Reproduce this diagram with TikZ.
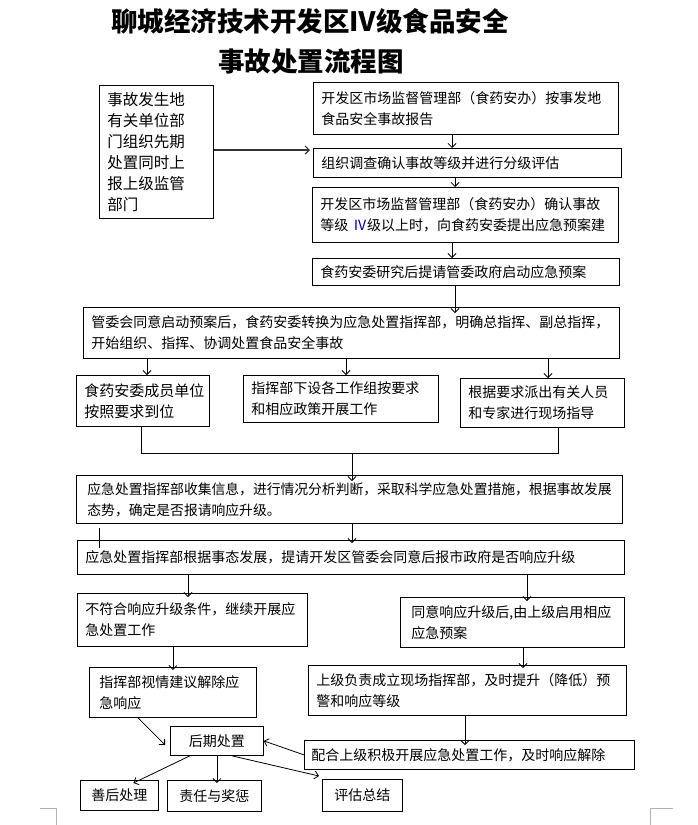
\documentclass[tikz,border=0pt]{standalone}
\usepackage{fontspec}
\newfontfamily\cjk{Noto Sans CJK SC}
\usetikzlibrary{arrows.meta}
\usepackage{xcolor}

\begin{document}
\begin{tikzpicture}[x=1pt,y=-1pt]
	\tikzstyle{box} = [draw=black,line width=0.8pt,anchor=north west,inner xsep=8pt,inner ysep=0pt,align=left,font=\cjk\fontsize{14}{21}\selectfont]
	\tikzstyle{arrow} = [-{Straight Barb[length=4pt,width=8pt]},line width=0.8pt]
	\tikzstyle{edge} = [-,line width=0.8pt]
	\tikzstyle{cornermark} = [-,line width=0.6pt,gray!60]
	\useasboundingbox (0,0) rectangle (697,825);
	\node[font=\cjk\bfseries\fontsize{26.5}{30}\selectfont] (title1) at (310,21) {聊城经济技术开发区Ⅳ级食品安全};
	\node[font=\cjk\bfseries\fontsize{26.5}{30}\selectfont] (title2) at (311,61) {事故处置流程图};
	\node[box,text width=98pt,minimum height=133pt,font=\cjk\fontsize{15.5}{21}\selectfont] (start) at (99,85) {事故发生地\\有关单位部\\门组织先期\\处置同时上\\报上级监管\\部门};
	\node[box,text width=289pt,minimum height=52pt] (report) at (313,82) {开发区市场监督管理部（食药安办）按事发地\\食品安全事故报告};
	\node[box,text width=292pt,minimum height=29pt] (assess) at (313,148) {组织调查确认事故等级并进行分级评估};
	\node[box,text width=290pt,minimum height=55pt] (confirm) at (312,187) {开发区市场监督管理部（食药安办）确认事故\\等级~{\color{blue!70!black}Ⅳ}级以上时，向食药安委提出应急预案建};
	\node[box,text width=291pt,minimum height=27pt] (propose) at (312,258) {食药安委研究后提请管委政府启动应急预案};
	\node[box,text width=520pt,minimum height=51pt] (plan) at (83,307) {管委会同意启动预案后，食药安委转换为应急处置指挥部，明确总指挥、副总指挥，\\开始组织、指挥、协调处置食品安全事故};
	\node[box,text width=117pt,minimum height=51pt,font=\cjk\fontsize{15}{21}\selectfont] (member) at (76,375) {食药安委成员单位\\按照要求到位};
	\node[box,text width=179pt,minimum height=47pt] (group) at (243,375) {指挥部下设各工作组按要求\\和相应政策开展工作};
	\node[box,text width=148pt,minimum height=49pt] (expert) at (460,378) {根据要求派出有关人员\\和专家进行现场指导};
	\node[box,inner xsep=11pt,text width=524pt,minimum height=48pt,font=\cjk\fontsize{13.8}{21}\selectfont] (collect) at (76,475) {应急处置指挥部收集信息，进行情况分析判断，采取科学应急处置措施，根据事故发展\\态势，确定是否报请响应升级。};
	\node[box,text width=531pt,minimum height=34pt] (upgrade) at (77,540) {应急处置指挥部根据事态发展，提请开发区管委会同意后报市政府是否响应升级};
	\node[box,text width=214pt,minimum height=53pt] (keep) at (77,593) {不符合响应升级条件，继续开展应\\急处置工作};
	\node[box,inner xsep=11pt,text width=202pt,minimum height=50pt] (higher) at (400,597) {同意响应升级后,由上级启用相应\\应急预案};
	\node[box,inner xsep=10pt,text width=147pt,minimum height=50pt] (lift) at (89,667) {指挥部视情建议解除应\\急响应};
	\node[box,text width=302pt,minimum height=50pt] (field) at (308,665) {上级负责成立现场指挥部，及时提升（降低）预\\警和响应等级};
	\node[box,align=center,text width=77pt,minimum height=29pt] (post) at (170,726) {后期处置};
	\node[box,inner xsep=7pt,text width=316pt,minimum height=29pt] (coop) at (304,740) {配合上级积极开展应急处置工作，及时响应解除};
	\node[box,align=center,inner xsep=4pt,text width=70pt,minimum height=30pt] (after) at (80,780) {善后处理};
	\node[box,align=center,inner xsep=4pt,text width=86pt,minimum height=31pt] (duty) at (167,780) {责任与奖惩};
	\node[box,align=center,inner xsep=4pt,text width=72pt,minimum height=32pt] (review) at (322,779) {评估总结};
	\coordinate (jl) at (141,453);
	\coordinate (jm) at (352,453);
	\coordinate (jr) at (558,453);
	\coordinate (s1) at (99,528);
	\coordinate (s2) at (99,548);
	\draw[arrow,line width=1.2pt,black!80] (start.east |- 0,150) -- ([xshift=-3pt]assess.west |- 0,150);
	\draw[arrow] (report.south -| 452,0) -- (assess.north -| 452,0);
	\draw[arrow] (assess.south -| 455,0) -- (confirm.north -| 455,0);
	\draw[arrow] (confirm.south -| 452,0) -- (propose.north -| 452,0);
	\draw[arrow] (propose.south -| 455,0) -- ([yshift=-6pt]plan.north -| 455,0);
	\draw[arrow] (plan.south -| 147,0) -- (member.north -| 147,0);
	\draw[arrow] (plan.south -| 346,0) -- (group.north -| 346,0);
	\draw[arrow] (plan.south -| 548,0) -- (expert.north -| 548,0);
	\draw[edge] (member.south -| jl) -- (jl) -- (jr) -- (expert.south -| jr);
	\draw[arrow] (jm) -- ([yshift=-6pt]jm |- collect.north);
	\draw[arrow] (jm |- collect.south) -- ([yshift=-3pt]jm |- upgrade.north);
	\draw[edge] (s1) -- (s2);
	\draw[arrow] (upgrade.south -| 188,0) -- ([yshift=-4pt]keep.north -| 188,0);
	\draw[arrow] (upgrade.south -| 527,0) -- ([yshift=-4pt]higher.north -| 527,0);
	\draw[arrow] (keep.south -| lift.north) -- ([yshift=-3pt]lift.north);
	\draw[arrow] (higher.south -| 523,0) -- ([yshift=-3pt]field.north -| 523,0);
	\draw[arrow] (field.south -| 465,0) -- ([yshift=-5pt]coop.north -| 465,0);
	\draw[arrow] (lift.south -| 138,0) -- ([xshift=-5pt,yshift=-4pt]post.west);
	\draw[arrow] (coop.west) -- (post.east);
	\draw[arrow] ([xshift=-27pt]post.south) -- ([xshift=14pt,yshift=-3pt]after.north);
	\draw[arrow] (post.south) -- ([yshift=-3pt]post.south |- duty.north);
	\draw[arrow] ([xshift=15pt]post.south) -- ([xshift=-3pt,yshift=3pt]review.north west);
	\draw[cornermark] (40,808) -- (56,808) -- (56,825);
	\draw[cornermark] (650,825) -- (650,808) -- (673,808);
\end{tikzpicture}
\end{document}
